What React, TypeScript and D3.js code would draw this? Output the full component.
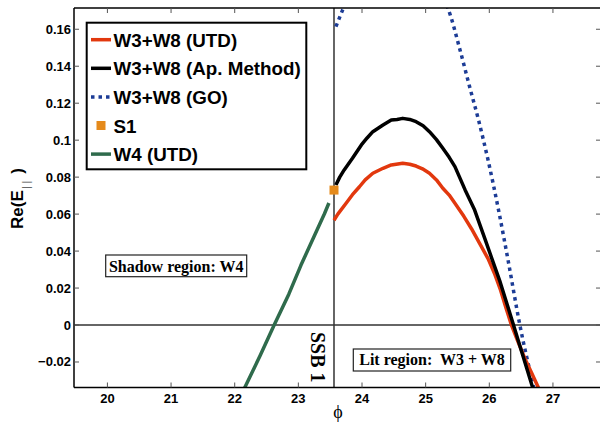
import React from "react";
import * as d3 from "d3";

const W = 600;
const H = 424;

// x (phi) ticks and y ticks
const xTicks = [20, 21, 22, 23, 24, 25, 26, 27];
const yTicks = [-0.02, 0, 0.02, 0.04, 0.06, 0.08, 0.1, 0.12, 0.14, 0.16];
const yTickLabels = ["\u22120.02", "0", "0.02", "0.04", "0.06", "0.08", "0.1", "0.12", "0.14", "0.16"];

// W3+W8 (UTD)
const utdPhi = [23.56, 23.62, 23.75, 23.85, 23.96, 24.05, 24.17, 24.33, 24.46, 24.64, 24.75, 24.85, 24.95, 25.06, 25.17, 25.27, 25.37, 25.46, 25.6, 25.72, 25.85, 25.98, 26.08, 26.17, 26.26, 26.35, 26.45, 26.56, 26.66, 26.78];
const utdVal = [0.0567, 0.06, 0.0659, 0.0705, 0.0748, 0.0785, 0.0821, 0.0848, 0.0866, 0.0875, 0.087, 0.086, 0.0845, 0.0821, 0.0785, 0.074, 0.0703, 0.0659, 0.0588, 0.0521, 0.044, 0.0359, 0.028, 0.0196, 0.0095, -0.0002, -0.009, -0.0182, -0.0255, -0.0345];

// W3+W8 (Ap. Method)
const apPhi = [23.59, 23.65, 23.72, 23.85, 23.99, 24.08, 24.17, 24.33, 24.46, 24.55, 24.64, 24.75, 24.85, 24.96, 25.06, 25.17, 25.27, 25.37, 25.46, 25.62, 25.77, 25.93, 26.05, 26.17, 26.35, 26.51, 26.67, 26.72];
const apVal = [0.0758, 0.08, 0.0839, 0.0902, 0.0974, 0.1012, 0.1046, 0.1082, 0.1109, 0.1112, 0.1118, 0.1112, 0.11, 0.1078, 0.1046, 0.1003, 0.0956, 0.0907, 0.0857, 0.0731, 0.0622, 0.0467, 0.035, 0.0233, 0.0034, -0.0146, -0.0326, -0.038];

// W3+W8 (GO)
const goPhi = [23.59, 23.7, 23.85, 24.1, 24.4, 24.7, 25.0, 25.2, 25.35, 25.54, 25.69, 25.83, 25.98, 26.14, 26.3, 26.48, 26.69, 26.74];
const goVal = [0.1614, 0.1708, 0.182, 0.195, 0.202, 0.201, 0.192, 0.181, 0.1714, 0.1488, 0.129, 0.111, 0.0893, 0.0631, 0.0341, 0, -0.0326, -0.04];

// W4 (UTD)
const w4Phi = [22.1, 22.4, 22.62, 22.85, 23.04, 23.25, 23.41, 23.48];
const w4Val = [-0.038, -0.0165, 0, 0.0167, 0.0323, 0.0482, 0.0602, 0.066];

// S1 point
const s1Phi = [23.56];
const s1Val = [0.073];

const ssbPhi = 23.56;

const legendLabels = ["W3+W8 (UTD)", "W3+W8 (Ap. Method)", "W3+W8 (GO)", "S1", "W4 (UTD)"];

const RED = "#e2380e";
const BLACK = "#000000";
const BLUE = "#1c3c96";
const ORANGE = "#e58a1b";
const GREEN = "#2f6b4c";

const SANS = "'Liberation Sans', Arial, Helvetica, sans-serif";
const SERIF = "'Liberation Serif', 'Times New Roman', serif";

export default function App() {
  const left = 74, right = 601, top = 8, bottom = 387.5;
  const x = d3.scaleLinear().domain([19.475, 27.755]).range([left, right]);
  const y = d3.scaleLinear().domain([-0.0338, 0.1715]).range([bottom, top]);

  const mk = (px: number[], vy: number[], curve = d3.curveLinear) =>
    d3.line<number>().x((_, i) => x(px[i])).y((_, i) => y(vy[i])).curve(curve)(px) || "";

  const legendY = legendLabels.map((_, i) => 46.7 + i * 28.6);

  return (
    <svg width={W} height={H} style={{ position: "absolute", left: 0, top: 0, background: "#fff" }}>
      <defs>
        <clipPath id="plotclip">
          <rect x={left} y={top} width={right - left} height={bottom - top} />
        </clipPath>
      </defs>
      <rect x={0} y={0} width={W} height={H} fill="#fff" />

      {/* reference lines */}
      <line x1={left} x2={right} y1={y(0)} y2={y(0)} stroke="#333" strokeWidth={1.5} />
      <line x1={x(ssbPhi)} x2={x(ssbPhi)} y1={top} y2={bottom} stroke="#333" strokeWidth={1.5} />

      <g clipPath="url(#plotclip)" fill="none" strokeLinejoin="round">
        <path d={mk(w4Phi, w4Val)} stroke={GREEN} strokeWidth={3.5} />
        <path d={mk(goPhi, goVal, d3.curveMonotoneX)} stroke={BLUE} strokeWidth={3.5} strokeDasharray="3.5 4" />
        <path d={mk(utdPhi, utdVal)} stroke={RED} strokeWidth={3.5} />
        <path d={mk(apPhi, apVal)} stroke={BLACK} strokeWidth={3.5} />
        {s1Phi.map((p, i) => (
          <rect key={i} x={x(p) - 4.5} y={y(s1Val[i]) - 4.5} width={9} height={9} fill={ORANGE} stroke="none" />
        ))}
      </g>

      {/* axes box */}
      <line x1={left} x2={right} y1={top} y2={top} stroke="#000" strokeWidth={1.5} />
      <line x1={left} x2={right} y1={bottom} y2={bottom} stroke="#000" strokeWidth={1.5} />
      <line x1={left} x2={left} y1={top} y2={bottom} stroke="#000" strokeWidth={1.5} />

      {xTicks.map((t) => (
        <g key={"xt" + t}>
          <line x1={x(t)} x2={x(t)} y1={bottom} y2={bottom - 5} stroke="#555" strokeWidth={1} />
          <line x1={x(t)} x2={x(t)} y1={top} y2={top + 5} stroke="#555" strokeWidth={1} />
          <text x={x(t)} y={403.3} textAnchor="middle" fontFamily={SANS} fontWeight="bold" fontSize={13}>
            {t}
          </text>
        </g>
      ))}
      {yTicks.map((t, i) => (
        <g key={"yt" + i}>
          <line x1={left} x2={left + 5} y1={y(t)} y2={y(t)} stroke="#555" strokeWidth={1} />
          <line x1={right - 5} x2={right} y1={y(t)} y2={y(t)} stroke="#555" strokeWidth={1} />
          <text x={71} y={y(t) + 4.5} textAnchor="end" fontFamily={SANS} fontWeight="bold" fontSize={13}>
            {yTickLabels[i]}
          </text>
        </g>
      ))}

      {/* axis labels */}
      <text x={338} y={418.3} textAnchor="middle" fontFamily={SERIF} fontSize={18}>
        {"\u03d5"}
      </text>
      <text transform="translate(23,229) rotate(-90)" fontFamily={SANS} fontWeight="bold" fontSize={17}>
        <tspan>Re(E</tspan>
        <tspan fontSize={10} fontWeight="normal" dx={1.5} dy={7} fill="#444">| |</tspan>
        <tspan dx={7} dy={-7}>)</tspan>
      </text>

      {/* annotations */}
      <rect x={105.7} y={255} width={141} height={21.7} fill="#fff" stroke="#222" strokeWidth={1.2} />
      <text x={176.2} y={271.5} textAnchor="middle" fontFamily={SERIF} fontWeight="bold" fontSize={16}>
        Shadow region: W4
      </text>
      <rect x={353.3} y={349} width={157.4} height={22} fill="#fff" stroke="#222" strokeWidth={1.2} />
      <text x={432} y={365.2} textAnchor="middle" fontFamily={SERIF} fontWeight="bold" fontSize={16} style={{ whiteSpace: "pre" }}>
        {"Lit region:  W3 + W8"}
      </text>
      <text transform="translate(311,332) rotate(90)" fontFamily={SERIF} fontWeight="bold" fontSize={20}>
        SSB 1
      </text>

      {/* legend */}
      <rect x={86.7} y={22.7} width={219.6} height={146.6} fill="#fff" stroke="#000" strokeWidth={2} />
      {legendLabels.map((lab, i) => {
        const cy = legendY[i] - 7;
        let sample: React.ReactNode = null;
        if (i === 0) sample = <line x1={91} x2={111} y1={cy} y2={cy} stroke={RED} strokeWidth={3.5} />;
        if (i === 1) sample = <line x1={91} x2={111} y1={cy} y2={cy} stroke={BLACK} strokeWidth={3.5} />;
        if (i === 2) sample = <line x1={91} x2={111} y1={cy} y2={cy} stroke={BLUE} strokeWidth={3.5} strokeDasharray="3.5 4" />;
        if (i === 3) sample = <rect x={96.5} y={cy - 4.5} width={9} height={9} fill={ORANGE} />;
        if (i === 4) sample = <line x1={91} x2={111} y1={cy} y2={cy} stroke={GREEN} strokeWidth={3.5} />;
        return (
          <g key={lab}>
            {sample}
            <text x={113.5} y={legendY[i]} fontFamily={SANS} fontWeight="bold" fontSize={18.8}>
              {lab}
            </text>
          </g>
        );
      })}
    </svg>
  );
}
